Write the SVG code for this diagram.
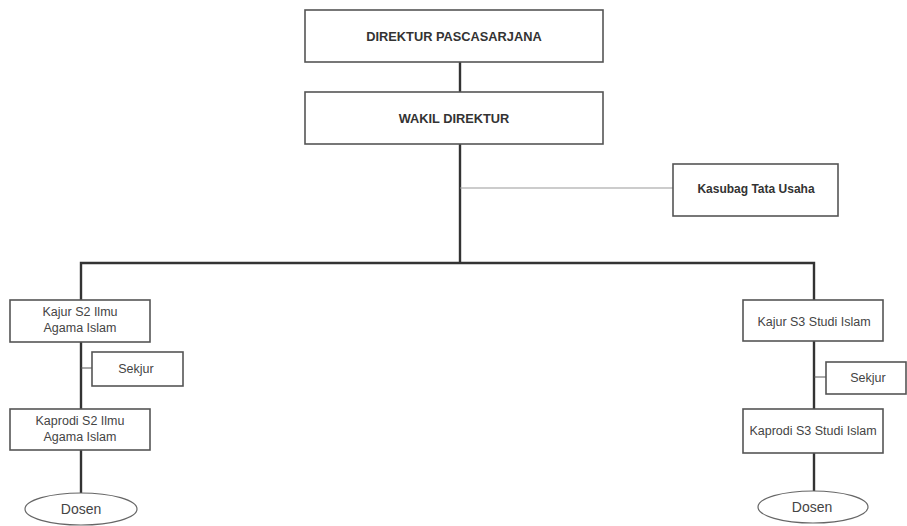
<svg xmlns="http://www.w3.org/2000/svg" width="907" height="526" viewBox="0 0 907 526">
<style>
.box{fill:#fff;stroke:#555;stroke-width:1.6}
.oval{fill:#fff;stroke:#666;stroke-width:1.2}
.t{font-family:"Liberation Sans",Arial,sans-serif;font-size:12.5px;fill:#444;text-anchor:middle}
.tb{font-family:"Liberation Sans",Arial,sans-serif;font-size:12.8px;fill:#333;text-anchor:middle;font-weight:bold}
.main{fill:none;stroke:#333;stroke-width:2.4}
.thin{fill:none;stroke:#999;stroke-width:1.2}
.sub{fill:none;stroke:#555;stroke-width:1}
</style>
<rect width="907" height="526" fill="#fff"/>
<g id="connectors">
<path class="main" d="M460 62V92"/>
<path class="main" d="M460 144V263"/>
<path class="thin" d="M460 188H673"/>
<path class="main" d="M81 300V263H814V300"/>
<path class="main" d="M81 342V409"/>
<path class="sub" d="M81 368H92"/>
<path class="main" d="M81 450V493"/>
<path class="main" d="M814 341V409"/>
<path class="sub" d="M814 377H826"/>
<path class="main" d="M814 453V491"/>
</g>
<g id="direktur">
<rect class="box" x="305" y="10" width="298" height="52"/>
<text class="tb" x="454" y="41">DIREKTUR PASCASARJANA</text>
</g>
<g id="wakil">
<rect class="box" x="305" y="92" width="298" height="52"/>
<text class="tb" x="454" y="123">WAKIL DIREKTUR</text>
</g>
<g id="kasubag">
<rect class="box" x="673" y="164" width="165" height="52"/>
<text class="tb" x="756" y="193" style="font-size:12px">Kasubag Tata Usaha</text>
</g>
<g id="kajur-s2">
<rect class="box" x="10" y="300" width="140" height="42"/>
<text class="t" x="80" y="316">Kajur S2 Ilmu</text>
<text class="t" x="80" y="332">Agama Islam</text>
</g>
<g id="sekjur-s2">
<rect class="box" x="92" y="352" width="91" height="34"/>
<text class="t" x="136" y="373">Sekjur</text>
</g>
<g id="kaprodi-s2">
<rect class="box" x="10" y="409" width="140" height="41"/>
<text class="t" x="80" y="425">Kaprodi S2 Ilmu</text>
<text class="t" x="80" y="441">Agama Islam</text>
</g>
<g id="dosen-s2">
<ellipse class="oval" cx="81" cy="509" rx="56" ry="16"/>
<text class="t" x="81" y="514" style="font-size:14px">Dosen</text>
</g>
<g id="kajur-s3">
<rect class="box" x="743" y="300" width="140" height="41"/>
<text class="t" x="814" y="326">Kajur S3 Studi Islam</text>
</g>
<g id="sekjur-s3">
<rect class="box" x="826" y="362" width="80" height="32"/>
<text class="t" x="868" y="382">Sekjur</text>
</g>
<g id="kaprodi-s3">
<rect class="box" x="743" y="409" width="140" height="44"/>
<text class="t" x="813" y="435">Kaprodi S3 Studi Islam</text>
</g>
<g id="dosen-s3">
<ellipse class="oval" cx="813" cy="507" rx="55" ry="16"/>
<text class="t" x="812" y="512" style="font-size:14px">Dosen</text>
</g>
</svg>
